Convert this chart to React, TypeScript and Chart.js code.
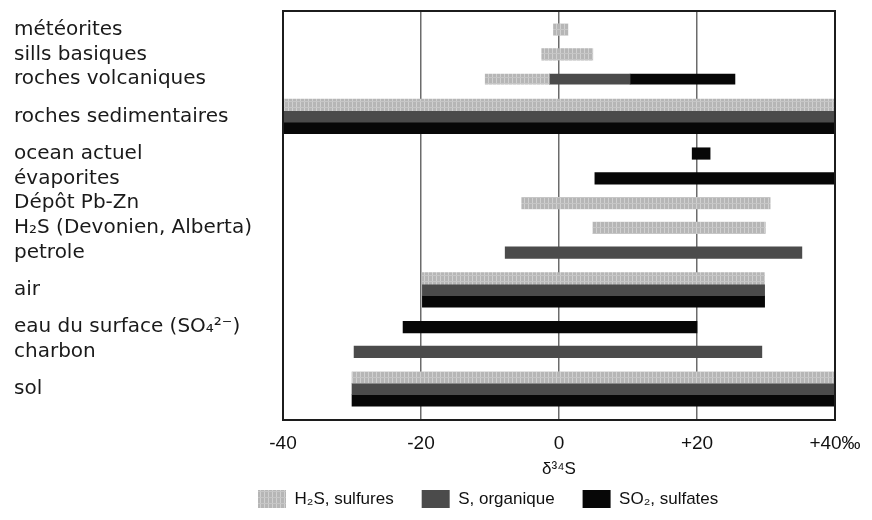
import React, { useEffect, useRef } from 'react';
import { Chart, registerables } from 'chart.js';

Chart.register(...registerables);

// ---- data ----
const rowLabels = [
  'météorites',
  'sills basiques',
  'roches volcaniques',
  'roches sedimentaires',
  'ocean actuel',
  'évaporites',
  'Dépôt Pb-Zn',
  'H₂S (Devonien, Alberta)',
  'petrole',
  'air',
  'eau du surface (SO₄²⁻)',
  'charbon',
  'sol',
];
// blank category slots placed before each row (vertical rhythm of the figure)
const blankSlotsBefore = [1, 1, 1, 2, 2, 1, 1, 1, 1, 2, 2, 1, 2];
const blankSlotsAfter = 2;

type Range = [number, number] | null;
const h2sSulfures: Range[] = [
  [-0.8, 1.3], [-2.5, 4.9], null, [-40, 40], null, null,
  [-5.4, 30.6], [4.9, 29.9], null, [-19.8, 29.8], null, null, [-30, 40],
];
const sOrganique: Range[] = [
  null, null, null, [-40, 40], null, null,
  null, null, [-7.8, 35.2], [-19.8, 29.8], null, [-29.7, 29.4], [-30, 40],
];
const so2Sulfates: Range[] = [
  null, null, null, [-40, 40], [19.3, 21.9], [5.2, 40],
  null, null, null, [-19.8, 29.8], [-22.6, 20], null, [-30, 40],
];
// roches volcaniques: the three segments overlap in one band (not grouped)
const volcanicRow = 'roches volcaniques';
const volcanicH2S: [number, number] = [-10.7, -1.4];
const volcanicOrg: [number, number] = [-1.4, 10.3];
const volcanicSO2: [number, number] = [10.3, 25.5];

const xTicks = [-40, -20, 0, 20, 40];
const xTickLabels = ['-40', '-20', '0', '+20', '+40‰'];
const xTitle = 'δ³⁴S';
const seriesNames = ['H₂S, sulfures', 'S, organique', 'SO₂, sulfates'];

// ---- build category list ----
const categories: string[] = [];
const rowSlot: number[] = [];
rowLabels.forEach((label, i) => {
  for (let k = 0; k < blankSlotsBefore[i]; k++) categories.push('');
  rowSlot.push(categories.length);
  categories.push(label);
});
for (let k = 0; k < blankSlotsAfter; k++) categories.push('');

const toSlots = (vals: Range[]) => {
  const out: Range[] = categories.map(() => null);
  vals.forEach((v, i) => { out[rowSlot[i]] = v; });
  return out;
};
const single = (label: string, v: [number, number]) =>
  categories.map((_, idx) => (idx === rowSlot[rowLabels.indexOf(label)] ? v : null));

function makePattern(): CanvasPattern | string {
  const c = document.createElement('canvas');
  c.width = 4;
  c.height = 6;
  const g = c.getContext('2d');
  if (!g) return '#bbbbbb';
  g.fillStyle = '#b6b6b6';
  g.fillRect(0, 0, 4, 6);
  g.fillStyle = '#d0d0d0';
  g.fillRect(0, 0, 1, 6);
  g.fillStyle = '#c6c6c6';
  g.fillRect(0, 3, 4, 1);
  return g.createPattern(c, 'repeat') || '#bbbbbb';
}

const LEGEND_DX = 216;
const LEGEND_DY = -20;

const framePlugin = {
  id: 'frame',
  afterDatasetsDraw(chart: any) {
    const { ctx, chartArea: a } = chart;
    ctx.save();
    ctx.strokeStyle = '#1c1c1c';
    ctx.lineWidth = 2;
    ctx.strokeRect(a.left, a.top, a.right - a.left, a.bottom - a.top);
    ctx.restore();
  },
};

const legendShift = {
  id: 'legendShift',
  afterLayout(chart: any) {
    const lg = chart.legend;
    if (!lg) return;
    lg.left += LEGEND_DX;
    lg.right = chart.width;
    lg.top += LEGEND_DY;
    lg.bottom = chart.height;
  },
};

export default function App() {
  const ref = useRef<HTMLCanvasElement>(null);

  useEffect(() => {
    const canvas = ref.current;
    if (!canvas) return;
    const light = makePattern();
    const dark = '#4b4b4b';
    const black = '#070707';

    const mainOpts = {
      barThickness: 11.5,
      skipNull: true,
      grouped: true,
      borderWidth: 0,
    };
    const overlayOpts = {
      barThickness: 10,
      maxBarThickness: 10,
      grouped: false,
      borderWidth: 0,
    };

    const chart = new Chart(canvas, {
      type: 'bar',
      data: {
        labels: categories,
        datasets: [
          { label: seriesNames[0], data: toSlots(h2sSulfures) as any, backgroundColor: light as any, ...mainOpts },
          { label: seriesNames[1], data: toSlots(sOrganique) as any, backgroundColor: dark, ...mainOpts },
          { label: seriesNames[2], data: toSlots(so2Sulfates) as any, backgroundColor: black, ...mainOpts },
          { label: seriesNames[0] + ' (v)', data: single(volcanicRow, volcanicH2S) as any, backgroundColor: light as any, ...overlayOpts },
          { label: seriesNames[1] + ' (v)', data: single(volcanicRow, volcanicOrg) as any, backgroundColor: dark, ...overlayOpts },
          { label: seriesNames[2] + ' (v)', data: single(volcanicRow, volcanicSO2) as any, backgroundColor: black, ...overlayOpts },
        ],
      },
      options: {
        indexAxis: 'y',
        animation: false,
        responsive: true,
        maintainAspectRatio: false,
        layout: { padding: { left: 6, right: 29, top: 3, bottom: 0 } },
        plugins: {
          tooltip: { enabled: false },
          legend: {
            position: 'bottom',
            align: 'start',
            maxHeight: 30,
            labels: {
              filter: (item: any) => item.datasetIndex < 3,
              boxWidth: 28,
              boxHeight: 18,
              padding: 28,
              color: '#111',
              font: { family: 'Liberation Sans', size: 17 },
            },
          },
        },
        scales: {
          x: {
            type: 'linear',
            min: -40,
            max: 40,
            afterBuildTicks: (s: any) => {
              s.ticks = xTicks.map((v) => ({ value: v }));
            },
            afterFit: (s: any) => {
              s.height = 62;
              s.paddingLeft = 0;
              s.paddingRight = 0;
            },
            ticks: {
              autoSkip: false,
              maxRotation: 0,
              padding: 12,
              color: '#111',
              font: { family: 'Liberation Sans', size: 19 },
              callback: (_v: any, i: number) => xTickLabels[i],
            },
            grid: {
              drawTicks: false,
              lineWidth: 1.5,
              color: (ctx: any) =>
                ctx.tick && Math.abs(ctx.tick.value) === 40 ? 'rgba(0,0,0,0)' : '#6b6b6b',
            },
            border: { display: false },
            title: {
              display: true,
              text: xTitle,
              color: '#111',
              font: { family: 'Liberation Sans', size: 17 },
              padding: { top: 0, bottom: 2 },
            },
          },
          y: {
            type: 'category',
            grid: { display: false },
            border: { display: false },
            afterFit: (s: any) => {
              s.width = 269;
              s.paddingTop = 0;
              s.paddingBottom = 0;
            },
            ticks: {
              autoSkip: false,
              crossAlign: 'far',
              padding: 0,
              color: '#1a1a1a',
              font: { family: 'DejaVu Sans', size: 20 },
            },
          },
        },
      } as any,
      plugins: [framePlugin, legendShift],
    });

    return () => chart.destroy();
  }, []);

  return (
    <div style={{ width: 856, height: 504, position: 'relative' }}>
      <canvas ref={ref} />
    </div>
  );
}
